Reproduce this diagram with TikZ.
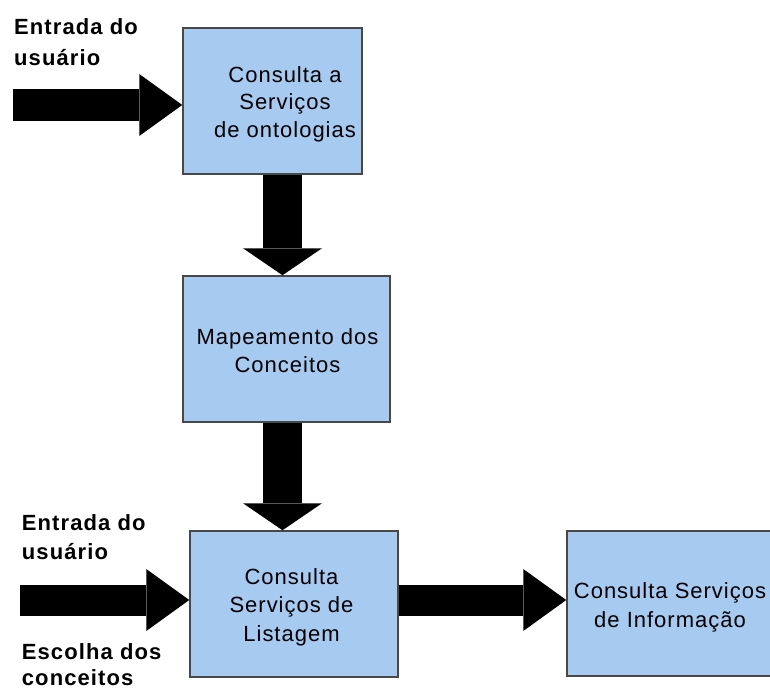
\documentclass[tikz,border=0pt]{standalone}
\usepackage{fontspec}
\setmainfont{Liberation Sans}
\newfontfamily\boxfont[LetterSpace=4.5]{Liberation Sans}
\newfontfamily\lblfont[LetterSpace=5]{Liberation Sans}
\usetikzlibrary{arrows.meta}
\definecolor{boxblue}{RGB}{166,202,240}
\definecolor{boxline}{RGB}{72,72,72}
\begin{document}
\begin{tikzpicture}[x=1pt,y=-1pt,
  blk/.style={draw=boxline,line width=1.5pt,fill=boxblue,rectangle,inner sep=0pt},
  boxtext/.style={anchor=north,inner sep=0pt,align=center,font=\boxfont\fontsize{22}{#1}\selectfont},
  lbl/.style={anchor=north west,inner sep=0pt,align=left,font=\lblfont\bfseries\fontsize{22}{#1}\selectfont},
  harrow/.style={line width=31pt,-{Triangle[length=43pt,width=62pt,line width=0pt]}},
  varrow/.style={line width=39pt,-{Triangle[length=27pt,width=79pt,line width=0pt]}}]
\useasboundingbox (0,0) rectangle (770,690);
% boxes
\node[blk,minimum width=179pt,minimum height=146pt] (b1) at (272.5,101) {};
\node[blk,minimum width=207pt,minimum height=146pt] (b2) at (286.5,349) {};
\node[blk,minimum width=208pt,minimum height=146pt] (b3) at (294,604) {};
\node[blk,minimum width=233pt,minimum height=145pt] (b4) at (683.5,603.5) {};
% box texts
\node[boxtext=27.5] (t1) at (285,66) {Consulta a\\Serviços\\de ontologias};
\node[boxtext=28] (t2) at (287.5,328) {Mapeamento dos\\Conceitos};
\node[boxtext=28.7] (t3) at (291.5,568) {Consulta\\Serviços de\\Listagem};
\node[boxtext=29] (t4) at (670,582) {Consulta Serviços\\de Informação};
% labels
\node[lbl=31] (l1) at (14,18) {Entrada do\\usuário};
\node[lbl=29] (l2) at (21.7,514.7) {Entrada do\\usuário};
\node[lbl=26] (l3) at (21.7,643) {Escolha dos\\conceitos};
% arrows
\coordinate (s1) at (13,105);
\draw[harrow] (s1) -- (s1 -| b1.west);
\coordinate (vx) at (282.5,0);
\draw[varrow] (b1.south -| vx) -- (b2.north -| vx);
\draw[varrow] (b2.south -| vx) -- (b3.north -| vx);
\coordinate (s2) at (20,600);
\draw[harrow] (s2) -- (s2 -| b3.west);
\coordinate (ay) at (0,600);
\draw[harrow] (b3.east |- ay) -- (b4.west |- ay);
\end{tikzpicture}
\end{document}
